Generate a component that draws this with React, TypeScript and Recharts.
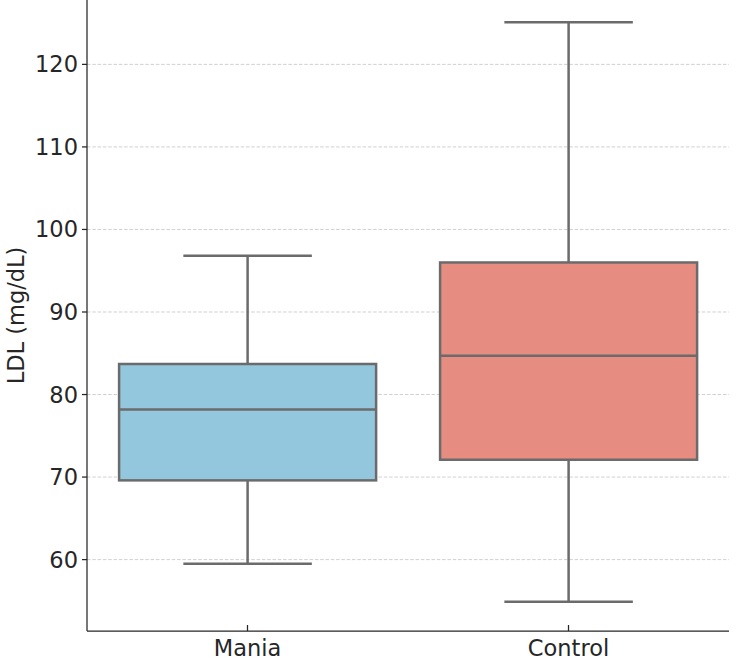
import { ComposedChart, Bar, XAxis, YAxis, CartesianGrid } from "recharts";

// LDL by group: whisker ends, quartiles and medians
const groups = ["Mania", "Control"];
const whiskerLow = [59.5, 54.9];
const q1 = [69.6, 72.1];
const median = [78.2, 84.7];
const q3 = [83.7, 96.0];
const whiskerHigh = [96.8, 125.1];
const boxColors = ["#93C7DD", "#E78C81"];
const yTicks = [60, 70, 80, 90, 100, 110, 120];

const data = groups.map((name, i) => ({
  name,
  range: [whiskerLow[i], whiskerHigh[i]],
  q1: q1[i],
  median: median[i],
  q3: q3[i],
  fill: boxColors[i],
}));

const FONT = "DejaVu Sans";
const TEXT = "#262626";
const EDGE = "#6b6b6b";

function BoxShape(props: any) {
  const { x, y, width, height, payload } = props;
  const top = Math.min(y, y + height);
  const h = Math.abs(height);
  const [lo, hi] = payload.range;
  const toY = (v: number) => top + ((hi - v) / (hi - lo)) * h;
  const cx = x + width / 2;
  const cap = width / 4;
  const yQ1 = toY(payload.q1);
  const yQ3 = toY(payload.q3);
  const yMed = toY(payload.median);
  const yLo = toY(lo);
  const yHi = toY(hi);
  return (
    <g stroke={EDGE} strokeWidth={2.5} fill="none">
      <line x1={cx} x2={cx} y1={yHi} y2={yQ3} />
      <line x1={cx} x2={cx} y1={yQ1} y2={yLo} />
      <line x1={cx - cap} x2={cx + cap} y1={yHi} y2={yHi} />
      <line x1={cx - cap} x2={cx + cap} y1={yLo} y2={yLo} />
      <rect x={x} y={yQ3} width={width} height={yQ1 - yQ3} fill={payload.fill} />
      <line x1={x} x2={x + width} y1={yMed} y2={yMed} />
    </g>
  );
}

function XTick(props: any) {
  const { x, y, payload } = props;
  return (
    <g>
      <line x1={x} x2={x} y1={y} y2={y - 6} stroke={TEXT} strokeWidth={1.25} />
      <text
        x={x}
        y={y + 25}
        textAnchor="middle"
        fill={TEXT}
        fontSize={22.5}
        fontFamily={FONT}
      >
        {payload.value}
      </text>
    </g>
  );
}

function YLabel(props: any) {
  const { viewBox } = props;
  const cx = viewBox.x + 15.5;
  const cy = viewBox.y + viewBox.height / 2;
  return (
    <text
      x={cx}
      y={cy}
      transform={`rotate(-90 ${cx} ${cy})`}
      textAnchor="middle"
      dominantBaseline="central"
      fill={TEXT}
      fontSize={22.5}
      fontFamily={FONT}
    >
      LDL (mg/dL)
    </text>
  );
}

// grid lines only at the labelled ticks
const gridRows = (p: any) => {
  const scale = p?.yAxis?.scale;
  if (!scale) return [];
  const fn = typeof scale === "function" ? scale : scale.map ?? scale.apply;
  return yTicks.map((t) => (typeof scale === "function" ? scale(t) : fn.call(scale, t)));
};

export default function App() {
  return (
    <div
      style={{
        position: "absolute",
        left: 0,
        top: 0,
        width: 750,
        height: 663,
        background: "#fff",
      }}
    >
      <ComposedChart
        width={750}
        height={663}
        data={data}
        margin={{ top: 0, right: 21, bottom: 0, left: 0 }}
        barCategoryGap="10%"
      >
        <XAxis
          dataKey="name"
          height={32}
          axisLine={{ stroke: TEXT, strokeWidth: 1.25 }}
          tickLine={false}
          tickSize={0}
          tickMargin={0}
          tick={<XTick />}
          interval={0}
        />
        <YAxis
          type="number"
          width={87}
          domain={[51.35, 127.8]}
          allowDataOverflow
          ticks={yTicks}
          axisLine={{ stroke: TEXT, strokeWidth: 1.25 }}
          tickLine={{ stroke: TEXT, strokeWidth: 1.25 }}
          tickSize={5}
          tickMargin={4}
          tick={{ fill: TEXT, fontSize: 22.5, fontFamily: FONT }}
          label={<YLabel />}
        />
        <Bar dataKey="range" shape={<BoxShape />} isAnimationActive={false} />
        <CartesianGrid
          vertical={false}
          horizontalCoordinatesGenerator={gridRows}
          stroke="#b0b0b0"
          strokeOpacity={0.6}
          strokeDasharray="3.5 1.8"
        />
      </ComposedChart>
    </div>
  );
}
